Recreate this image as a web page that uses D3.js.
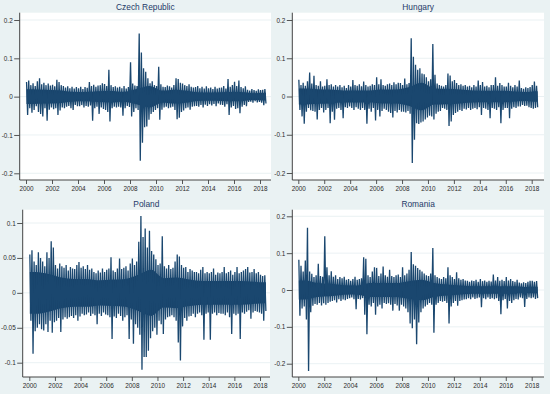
<!DOCTYPE html>
<html>
<head>
<meta charset="utf-8">
<script src="https://cdn.jsdelivr.net/npm/d3@7"></script>
<style>
body { margin: 0; background: #eaf2f3; }
svg { display: block; font-family: "Liberation Sans", Arial, sans-serif; }
</style>
</head>
<body>
<svg id="viz" width="550" height="394"></svg>
<script>
// daily returns, read off the picture as the max / min of each two-month block
// (six blocks per year, 2000 Jan-Feb ... 2018 May-Jun)
// plus the half-width of the solid dark core of the band, one value per year
var yearTicks = [2000, 2002, 2004, 2006, 2008, 2010, 2012, 2014, 2016, 2018];

var czTicks = [-0.2, -0.1, 0, 0.1, 0.2];
var czHi = [
  .038,.042,.030,.035,.028,.040, .048,.032,.036,.030,.034,.029,
  .031,.027,.044,.038,.030,.028, .024,.027,.022,.026,.021,.025,
  .022,.026,.020,.025,.023,.038, .028,.031,.026,.029,.030,.035,
  .033,.028,.070,.030,.025,.027, .024,.026,.022,.028,.021,.025,
  .090,.034,.029,.028,.165,.115, .074,.065,.048,.035,.040,.030,
  .028,.078,.032,.026,.025,.029, .027,.024,.030,.048,.046,.036,
  .034,.030,.028,.032,.026,.024, .025,.028,.022,.026,.021,.027,
  .022,.024,.020,.026,.021,.023, .024,.028,.021,.046,.026,.030,
  .039,.028,.042,.025,.022,.027, .018,.016,.020,.017,.015,.019,
  .017,.018,.020];
var czLo = [
  -.048,-.030,-.042,-.035,-.025,-.040, -.045,-.052,-.030,-.063,-.034,-.028,
  -.033,-.030,-.048,-.036,-.028,-.030, -.026,-.024,-.030,-.035,-.022,-.025,
  -.025,-.022,-.028,-.024,-.026,-.023, -.063,-.030,-.026,-.045,-.028,-.032,
  -.035,-.040,-.065,-.030,-.026,-.028, -.026,-.028,-.050,-.030,-.024,-.027,
  -.052,-.040,-.030,-.035,-.167,-.120, -.080,-.078,-.060,-.045,-.040,-.035,
  -.030,-.060,-.034,-.028,-.026,-.030, -.028,-.026,-.035,-.059,-.055,-.040,
  -.036,-.030,-.028,-.034,-.026,-.025, -.024,-.026,-.022,-.028,-.021,-.024,
  -.020,-.023,-.019,-.025,-.018,-.021, -.022,-.026,-.020,-.048,-.028,-.024,
  -.032,-.030,-.043,-.026,-.022,-.025, -.014,-.013,-.016,-.012,-.015,-.014,
  -.016,-.022,-.018];
var czCore = [.019,.018,.017,.013,.012,.014,.015,.013,.020,.028,.016,.018,.015,.011,.011,.012,.012,.009,.010];

var huTicks = [-0.2, -0.1, 0, 0.1, 0.2];
var huHi = [
  .044,.030,.036,.028,.040,.063, .034,.054,.030,.028,.040,.026,
  .028,.045,.030,.032,.026,.030, .026,.030,.024,.028,.022,.030,
  .026,.043,.030,.028,.032,.027, .039,.030,.026,.028,.032,.030,
  .050,.032,.045,.030,.028,.032, .034,.030,.037,.032,.036,.035,
  .030,.047,.032,.035,.152,.104, .083,.070,.074,.060,.058,.050,
  .040,.045,.137,.057,.034,.030, .028,.026,.030,.060,.055,.040,
  .043,.035,.030,.032,.028,.030, .026,.028,.024,.030,.026,.042,
  .030,.038,.026,.028,.024,.030, .030,.050,.028,.035,.030,.026,
  .026,.036,.028,.024,.030,.026, .042,.022,.020,.024,.022,.025,
  .030,.039,.028];
var huLo = [
  -.035,-.052,-.071,-.040,-.030,-.036, -.038,-.040,-.060,-.035,-.030,-.042,
  -.035,-.030,-.070,-.040,-.061,-.032, -.030,-.035,-.057,-.028,-.030,-.026,
  -.030,-.035,-.028,-.032,-.035,-.030, -.035,-.071,-.032,-.040,-.030,-.063,
  -.035,-.052,-.038,-.032,-.035,-.040, -.043,-.055,-.038,-.042,-.035,-.040,
  -.040,-.042,-.038,-.045,-.174,-.113, -.070,-.072,-.068,-.065,-.060,-.055,
  -.050,-.052,-.060,-.045,-.040,-.038, -.030,-.032,-.035,-.077,-.065,-.048,
  -.043,-.040,-.035,-.038,-.032,-.034, -.030,-.035,-.032,-.030,-.033,-.028,
  -.048,-.030,-.032,-.035,-.057,-.030, -.032,-.035,-.028,-.070,-.035,-.030,
  -.030,-.057,-.032,-.028,-.030,-.026, -.026,-.022,-.025,-.024,-.028,-.030,
  -.032,-.030,-.028];
var huCore = [.021,.019,.018,.016,.016,.016,.018,.018,.024,.036,.021,.020,.018,.016,.015,.015,.014,.012,.014];

var plTicks = [-0.1, -0.05, 0, 0.05, 0.1];
var plHi = [
  .055,.061,.045,.040,.058,.050, .045,.038,.058,.050,.074,.065,
  .040,.035,.042,.038,.036,.040, .032,.037,.035,.034,.040,.044,
  .036,.038,.034,.040,.033,.035, .030,.028,.032,.029,.035,.030,
  .033,.035,.051,.032,.030,.035, .049,.034,.036,.038,.032,.042,
  .049,.040,.045,.073,.110,.080, .092,.065,.089,.060,.055,.048,
  .040,.042,.081,.038,.035,.040, .034,.036,.045,.055,.052,.040,
  .036,.037,.030,.034,.032,.030, .030,.028,.033,.037,.028,.030,
  .028,.030,.035,.026,.029,.028, .030,.037,.028,.030,.032,.026,
  .030,.037,.028,.030,.032,.034, .037,.029,.030,.034,.028,.030,
  .026,.024,.025];
var plLo = [
  -.040,-.087,-.055,-.050,-.045,-.052, -.054,-.045,-.056,-.040,-.057,-.042,
  -.040,-.036,-.056,-.038,-.035,-.037, -.035,-.033,-.036,-.032,-.040,-.034,
  -.030,-.032,-.031,-.028,-.033,-.030, -.032,-.045,-.030,-.033,-.028,-.031,
  -.032,-.035,-.066,-.034,-.036,-.030, -.033,-.040,-.035,-.032,-.066,-.038,
  -.073,-.045,-.050,-.060,-.110,-.092, -.092,-.083,-.065,-.055,-.050,-.060,
  -.040,-.045,-.059,-.038,-.035,-.034, -.032,-.035,-.040,-.071,-.097,-.048,
  -.036,-.040,-.034,-.033,-.030,-.035, -.030,-.028,-.032,-.067,-.030,-.028,
  -.067,-.030,-.028,-.032,-.029,-.030, -.030,-.032,-.028,-.035,-.059,-.030,
  -.032,-.030,-.066,-.028,-.030,-.027, -.025,-.037,-.028,-.026,-.027,-.028,
  -.030,-.040,-.026];
var plCore = [.030,.027,.022,.020,.020,.018,.019,.020,.026,.033,.021,.022,.019,.017,.017,.017,.017,.016,.015];

var roTicks = [-0.2, -0.1, 0, 0.1, 0.2];
var roHi = [
  .082,.066,.050,.080,.169,.050, .044,.035,.040,.071,.038,.036,
  .146,.062,.040,.051,.036,.040, .030,.035,.032,.036,.028,.030,
  .025,.030,.036,.028,.030,.032, .089,.085,.040,.035,.050,.062,
  .060,.038,.045,.064,.040,.036, .055,.038,.035,.040,.042,.035,
  .062,.040,.045,.055,.103,.070, .066,.060,.055,.050,.045,.040,
  .038,.045,.114,.040,.035,.032, .030,.035,.032,.062,.040,.035,
  .030,.048,.032,.028,.030,.026, .025,.022,.026,.024,.028,.022,
  .030,.024,.026,.022,.025,.023, .042,.026,.035,.025,.028,.024,
  .035,.026,.030,.024,.022,.028, .020,.018,.021,.019,.022,.025,
  .025,.022,.024];
var roLo = [
  -.070,-.050,-.045,-.080,-.220,-.060, -.043,-.038,-.040,-.035,-.042,-.036,
  -.040,-.035,-.032,-.030,-.028,-.034, -.025,-.030,-.026,-.028,-.024,-.022,
  -.020,-.025,-.052,-.024,-.026,-.022, -.067,-.120,-.040,-.045,-.035,-.067,
  -.045,-.040,-.050,-.035,-.038,-.036, -.040,-.056,-.038,-.042,-.056,-.040,
  -.045,-.050,-.060,-.091,-.104,-.080, -.147,-.088,-.060,-.050,-.045,-.040,
  -.035,-.040,-.116,-.040,-.035,-.030, -.032,-.030,-.035,-.091,-.045,-.035,
  -.030,-.043,-.030,-.028,-.026,-.025, -.022,-.025,-.020,-.024,-.022,-.020,
  -.047,-.022,-.025,-.020,-.024,-.022, -.025,-.022,-.030,-.066,-.028,-.024,
  -.050,-.030,-.035,-.028,-.024,-.026, -.020,-.022,-.046,-.024,-.020,-.022,
  -.020,-.024,-.022];
var roCore = [.026,.019,.017,.013,.012,.019,.019,.019,.024,.028,.019,.015,.012,.010,.010,.010,.010,.008,.009];

/********************************/
var svg = d3.select("#viz");
var navy = "#1a476f";

var panels = [
  {name: "Czech Republic", hi: czHi, lo: czLo, core: czCore, ticks: czTicks,
   left: 19.7, right: 271, top: 12.7, bottom: 180, x0: 26, x1: 260, yTopV: 0.2, yTop: 20, yBotV: -0.2, yBot: 173.3},
  {name: "Hungary", hi: huHi, lo: huLo, core: huCore, ticks: huTicks,
   left: 292.3, right: 544, top: 12.7, bottom: 180, x0: 298.3, x1: 531.7, yTopV: 0.2, yTop: 20, yBotV: -0.2, yBot: 173},
  {name: "Poland", hi: plHi, lo: plLo, core: plCore, ticks: plTicks,
   left: 22.7, right: 270, top: 209.7, bottom: 377, x0: 29.3, x1: 260, yTopV: 0.1, yTop: 223, yBotV: -0.1, yBot: 362.7},
  {name: "Romania", hi: roHi, lo: roLo, core: roCore, ticks: roTicks,
   left: 292.3, right: 544, top: 209.7, bottom: 377, x0: 298.3, x1: 531.7, yTopV: 0.2, yTop: 216.3, yBotV: -0.2, yBot: 363.7}
];

panels.forEach(drawPanel);

function drawPanel(p) {
    var x = d3.scaleLinear().domain([2000, 2018]).range([p.x0, p.x1]);
    var y = d3.scaleLinear().domain([p.yBotV, p.yTopV]).range([p.yBot, p.yTop]);
    var g = svg.append("g");

    g.append("rect")
        .attr("x", p.left).attr("y", p.top)
        .attr("width", p.right - p.left).attr("height", p.bottom - p.top)
        .attr("fill", "#fff");

    // grid
    g.selectAll("line.grid")
        .data(p.ticks).enter()
        .append("line")
        .attr("class", "grid")
        .attr("x1", p.left).attr("x2", p.right)
        .attr("y1", d => y(d)).attr("y2", d => y(d))
        .attr("stroke", "#e4eef0").attr("stroke-width", 0.8);

    // solid core of the band
    var n = p.hi.length / 6;
    var core = p.core.map((v, i) => [Math.min(2000 + i + 0.5, 2000 + n - 0.1), v]);
    core.unshift([2000.04, p.core[0]]);
    core.push([2000 + n - 0.04, p.core[p.core.length - 1]]);
    g.append("path")
        .datum(core)
        .attr("d", d3.area().curve(d3.curveMonotoneX)
            .x(d => x(d[0])).y0(d => y(-d[1])).y1(d => y(d[1])))
        .attr("fill", "#163f66");

    // series: each block's max then its min
    var pts = [];
    p.hi.forEach(function (v, k) {
        pts.push([2000 + (k + 0.25) / 6, v]);
        pts.push([2000 + (k + 0.75) / 6, p.lo[k]]);
    });
    g.append("path")
        .datum(pts)
        .attr("d", d3.line().x(d => x(d[0])).y(d => y(d[1])))
        .attr("fill", "none")
        .attr("stroke", navy)
        .attr("stroke-width", 1.3)
        .attr("stroke-linejoin", "bevel");

    // axes
    var fmt = d => d === 0 ? "0" : String(d);
    var yAxis = g.append("g")
        .attr("transform", "translate(" + p.left + ",0)")
        .call(d3.axisLeft(y).tickValues(p.ticks).tickSize(5.5).tickPadding(1.5).tickFormat(fmt));
    var xAxis = g.append("g")
        .attr("transform", "translate(0," + p.bottom + ")")
        .call(d3.axisBottom(x).tickValues(yearTicks).tickSize(4).tickPadding(2.5).tickFormat(d3.format("d")));
    [yAxis, xAxis].forEach(function (a) {
        a.select(".domain").remove();
        a.selectAll("line").attr("stroke", "#444").attr("stroke-width", 0.9);
        a.selectAll("text")
            .attr("fill", "#2a2a2a")
            .style("font-size", "6.4px")
            .style("font-family", "'Liberation Sans', Arial, sans-serif");
    });

    g.append("line")
        .attr("x1", p.left).attr("x2", p.left)
        .attr("y1", p.top).attr("y2", p.bottom)
        .attr("stroke", "#444").attr("stroke-width", 1);
    g.append("line")
        .attr("x1", p.left).attr("x2", p.right)
        .attr("y1", p.bottom).attr("y2", p.bottom)
        .attr("stroke", "#444").attr("stroke-width", 1);

    g.append("text")
        .attr("x", (p.left + p.right) / 2)
        .attr("y", p.top - 3)
        .attr("text-anchor", "middle")
        .attr("fill", "#1f3a68")
        .style("font-size", "8.4px")
        .text(p.name);
}
</script>
</body>
</html>
